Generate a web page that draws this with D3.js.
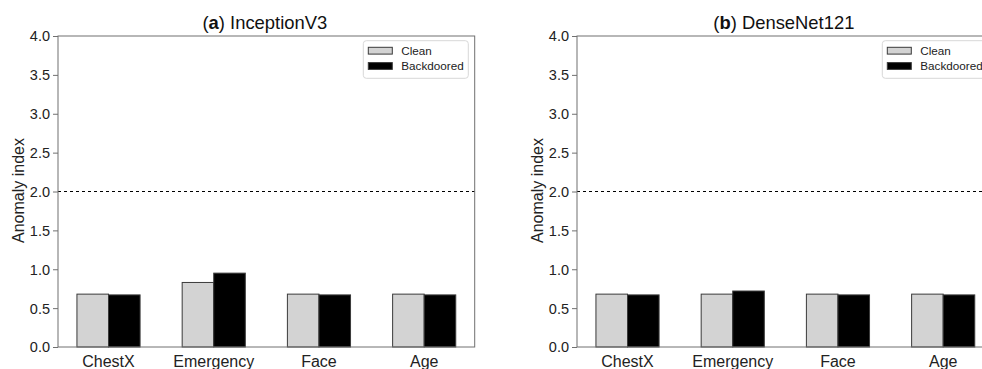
<!DOCTYPE html>
<html>
<head>
<meta charset="utf-8">
<script src="https://cdn.jsdelivr.net/npm/d3@7"></script>
<style>
  body { margin: 0; background: #fff; }
  svg { display: block; font-family: "Liberation Sans", Arial, sans-serif; }
</style>
</head>
<body>
<script>
// data
const categories = ['ChestX', 'Emergency', 'Face', 'Age']
const seriesNames = ['Clean', 'Backdoored']
const inceptionClean = [0.68, 0.83, 0.68, 0.68]
const inceptionBackdoored = [0.67, 0.95, 0.67, 0.67]
const densenetClean = [0.68, 0.68, 0.68, 0.68]
const densenetBackdoored = [0.67, 0.72, 0.67, 0.67]
const yTicks = [0, 0.5, 1, 1.5, 2, 2.5, 3, 3.5, 4]
const threshold = 2.0

const panels = [
  { letter: 'a', name: 'InceptionV3', clean: inceptionClean, back: inceptionBackdoored, left: 58 },
  { letter: 'b', name: 'DenseNet121', clean: densenetClean, back: densenetBackdoored, left: 577 },
]

const W = 982, H = 369
const plotW = 416.7, plotTop = 36, plotBottom = 347
const barW = 0.3
const fills = ['#d3d3d3', '#000000']
const frame = '#707070'

const svg = d3.select('body').append('svg')
  .attr('width', W)
  .attr('height', H)

panels.forEach(p => {
  const g = svg.append('g').attr('transform', `translate(${p.left},0)`)

  const x = d3.scaleLinear().domain([-0.48, categories.length - 1 + 0.48]).range([0, plotW])
  const y = d3.scaleLinear().domain([0, 4]).range([plotBottom, plotTop])

  // bars
  const series = [p.clean, p.back]
  series.forEach((vals, s) => {
    g.selectAll(null)
      .data(vals)
      .enter()
      .append('rect')
      .attr('x', (d, i) => x(i - barW + s * barW))
      .attr('width', x(barW) - x(0))
      .attr('y', d => y(d))
      .attr('height', d => y(0) - y(d))
      .attr('fill', fills[s])
      .attr('stroke', '#3a3a3a')
      .attr('stroke-width', 1)
  })

  // threshold line
  g.append('line')
    .attr('x1', 0).attr('x2', plotW)
    .attr('y1', y(threshold)).attr('y2', y(threshold))
    .attr('stroke', '#000')
    .attr('stroke-width', 1)
    .attr('stroke-dasharray', '3,3')

  // frame
  g.append('rect')
    .attr('x', 0).attr('y', plotTop)
    .attr('width', plotW).attr('height', plotBottom - plotTop)
    .attr('fill', 'none')
    .attr('stroke', frame)
    .attr('stroke-width', 1)

  // y axis
  const yAxis = g.append('g')
    .call(d3.axisLeft(y).tickValues(yTicks).tickFormat(d3.format('.1f')).tickSize(5).tickPadding(3))
  yAxis.select('.domain').remove()
  yAxis.selectAll('line').attr('stroke', frame)
  yAxis.selectAll('text').attr('font-size', 14.5).attr('fill', '#222').attr('dy', '0.34em')

  // x axis labels
  g.selectAll(null)
    .data(categories)
    .enter()
    .append('text')
    .attr('x', (d, i) => x(i))
    .attr('y', 366.5)
    .attr('text-anchor', 'middle')
    .attr('font-size', 16)
    .attr('fill', '#222')
    .text(d => d)

  // y label
  g.append('text')
    .attr('transform', `translate(-34,${(plotTop + plotBottom) / 2 - 1}) rotate(-90)`)
    .attr('text-anchor', 'middle')
    .attr('font-size', 16)
    .attr('fill', '#222')
    .text('Anomaly index')

  // title
  const t = g.append('text')
    .attr('x', plotW / 2 - 1.5)
    .attr('y', 28.5)
    .attr('text-anchor', 'middle')
    .attr('font-size', 18.4)
    .attr('fill', '#111')
  t.append('tspan').text('(')
  t.append('tspan').attr('font-weight', 'bold').text(p.letter)
  t.append('tspan').text(') ' + p.name)

  // legend
  const lg = g.append('g').attr('transform', `translate(${plotW - 111.4},40.7)`)
  lg.append('rect')
    .attr('width', 105).attr('height', 37.6)
    .attr('rx', 3)
    .attr('fill', '#fff')
    .attr('stroke', '#d8d8d8')
  seriesNames.forEach((name, s) => {
    lg.append('rect')
      .attr('x', 5).attr('y', 6.6 + s * 15.3)
      .attr('width', 24).attr('height', 6.8)
      .attr('fill', fills[s])
      .attr('stroke', '#3a3a3a')
    lg.append('text')
      .attr('x', 38).attr('y', 14.3 + s * 15.3)
      .attr('font-size', 11.7)
      .attr('fill', '#222')
      .text(name)
  })
})
</script>
</body>
</html>
